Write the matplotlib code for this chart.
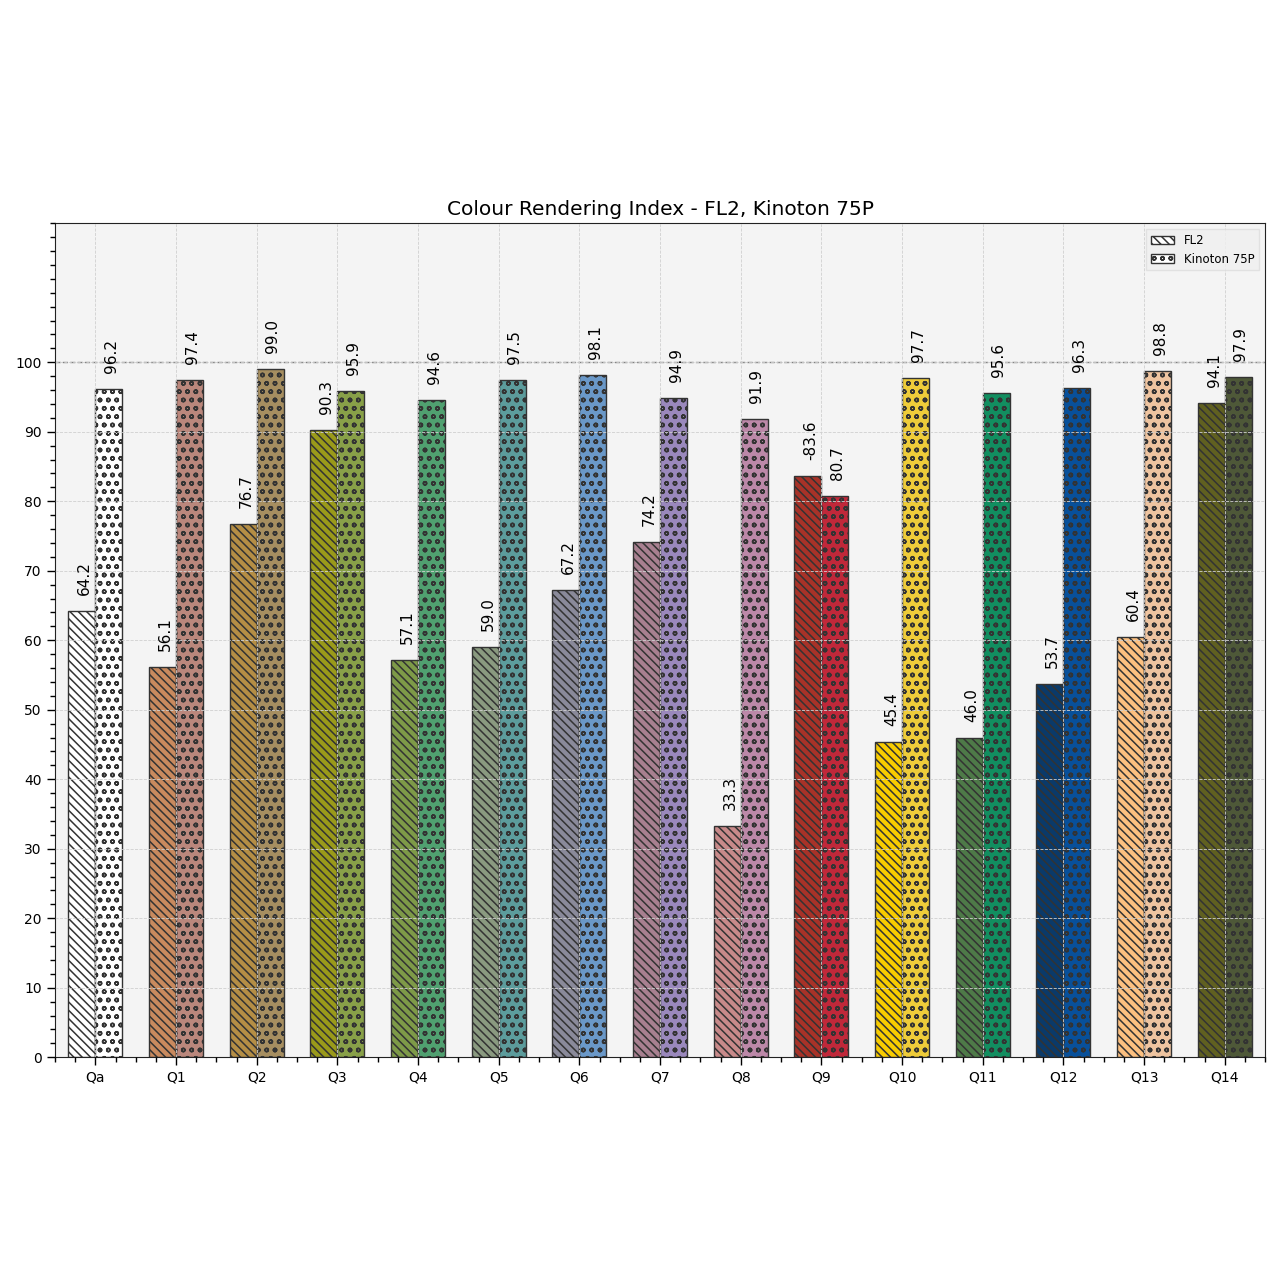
import numpy as np
import matplotlib
matplotlib.use('Agg')
import matplotlib.pyplot as plt
from matplotlib.ticker import MultipleLocator
from matplotlib.patches import Patch

# Colour rendering index values (Q9 of FL2 is negative, drawn as its magnitude)
labels = ['Qa', 'Q1', 'Q2', 'Q3', 'Q4', 'Q5', 'Q6', 'Q7',
          'Q8', 'Q9', 'Q10', 'Q11', 'Q12', 'Q13', 'Q14']
fl2_values = [64.2, 56.1, 76.7, 90.3, 57.1, 59.0, 67.2, 74.2,
              33.3, -83.6, 45.4, 46.0, 53.7, 60.4, 94.1]
kinoton_values = [96.2, 97.4, 99.0, 95.9, 94.6, 97.5, 98.1, 94.9,
                  91.9, 80.7, 97.7, 95.6, 96.3, 98.8, 97.9]

fl2_colours = ['#FFFFFF', '#C98A5E', '#B58E45', '#9A9A1A', '#7E9A48',
               '#8A9A80', '#8A8A9A', '#A88090', '#C88A8A', '#A83228',
               '#F8CC00', '#4E7A48', '#0A3A6A', '#FCC080', '#606020']
kinoton_colours = ['#FFFFFF', '#BA877C', '#A68E60', '#88A048', '#50A070',
                   '#5C9C9C', '#6A98C8', '#9A88BC', '#BC88A8', '#C0283A',
                   '#EECC3A', '#128E60', '#08509A', '#EEC4A0', '#4E5838']

plt.rcParams['hatch.linewidth'] = 1.1

fig = plt.figure(figsize=(12.8, 12.8), dpi=100)
ax = fig.add_axes([0.043, 0.174, 0.9453, 0.6516])
ax.set_facecolor('#F4F4F4')

x = np.arange(len(labels))
width = 1 / 3
edge = '#333333'
hatch_fl2 = '\\' * 4

bars_fl2 = ax.bar(x - width / 2, np.abs(fl2_values), width, color=fl2_colours,
                  edgecolor=edge, linewidth=1, hatch=hatch_fl2)
bars_kin = ax.bar(x + width / 2, np.abs(kinoton_values), width, color=kinoton_colours,
                  edgecolor=edge, linewidth=1, hatch='oo')

# value labels above each bar
for bars, values in ((bars_fl2, fl2_values), (bars_kin, kinoton_values)):
    for bar, value in zip(bars, values):
        ax.text(bar.get_x() + bar.get_width() / 2 + 0.035, bar.get_height() + 2.3,
                f'{value:.1f}', ha='center', va='bottom', rotation=90, fontsize=11)

ax.axhline(100, color='#808080', linestyle='--', linewidth=1)

ax.set_xlim(-0.5, len(labels) - 0.5)
ax.set_ylim(0, 120)
ax.set_xticks(x)
ax.set_xticklabels(labels)
ax.set_yticks(np.arange(0, 101, 10))
ax.xaxis.set_minor_locator(MultipleLocator(0.25))
ax.yaxis.set_minor_locator(MultipleLocator(2))
ax.tick_params(which='major', length=6, width=1, labelsize=10)
ax.tick_params(which='minor', length=3.5, width=1)

ax.grid(True, which='major', color='#D0D0D0', linestyle='--', linewidth=0.6)
ax.set_axisbelow(False)
for s in ax.spines.values():
    s.set_color('#222222')

ax.set_title('Colour Rendering Index - FL2, Kinoton 75P', fontsize=14.5)

handles = [Patch(facecolor='white', edgecolor=edge, hatch=hatch_fl2, label='FL2'),
           Patch(facecolor='white', edgecolor=edge, hatch='oo', label='Kinoton 75P')]
ax.legend(handles=handles, loc='upper right', fontsize=8.5, facecolor='#F0F0F0',
          edgecolor='#DDDDDD', fancybox=False)

fig.savefig('out.png', dpi=100)
